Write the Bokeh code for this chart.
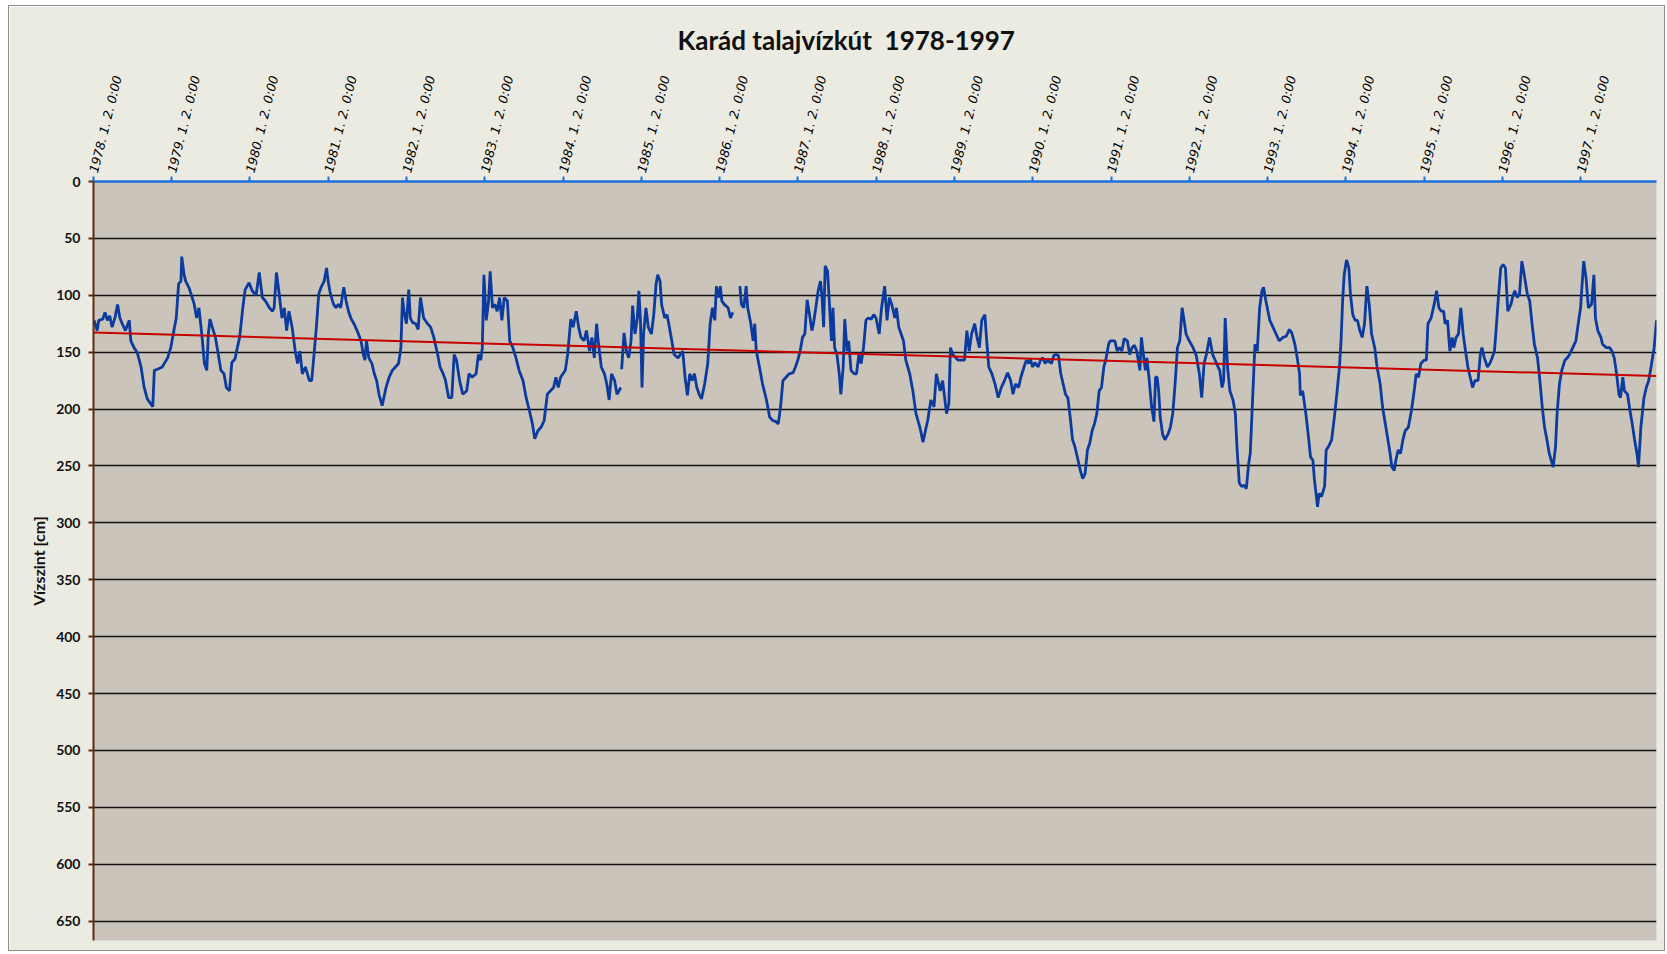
import numpy as np
import pandas as pd
from bokeh.plotting import figure
from bokeh.models import Range1d, FixedTicker, ColumnDataSource
from bokeh.embed import file_html
from bokeh.resources import INLINE

# ---------------- data ----------------
chart_title = "Karád talajvízkút\u00a0 1978-1997"
y_axis_title = "Vízszint [cm]"
tick_years = list(range(1978, 1998))
tick_labels = [f"{y}. 1. 2. 0:00" for y in tick_years]
y_ticks = list(range(0, 651, 50))
NAN = float("nan")

# (decimal year, water level below surface in cm)
block_1978_1982 = [
    (1978.01, 122), (1978.05, 131), (1978.07, 122), (1978.12, 121), (1978.15, 115), (1978.18, 122),
    (1978.21, 118), (1978.24, 128), (1978.28, 119), (1978.31, 108), (1978.34, 120), (1978.37, 125),
    (1978.41, 131), (1978.46, 122), (1978.48, 140), (1978.52, 146), (1978.56, 150), (1978.61, 163),
    (1978.65, 181), (1978.69, 191), (1978.76, 198), (1978.78, 166), (1978.82, 165), (1978.88, 163),
    (1978.95, 155), (1978.99, 146), (1979.03, 131), (1979.06, 120), (1979.09, 90), (1979.12, 87.5),
    (1979.13, 66), (1979.16, 82), (1979.18, 87.5), (1979.22, 93), (1979.25, 99), (1979.29, 108),
    (1979.32, 120), (1979.35, 111), (1979.39, 137), (1979.42, 160), (1979.45, 166), (1979.47, 134),
    (1979.49, 121), (1979.52, 128), (1979.56, 137), (1979.59, 149), (1979.63, 166), (1979.67, 169),
    (1979.70, 181), (1979.74, 184), (1979.77, 159), (1979.81, 156), (1979.84, 146), (1979.87, 137),
    (1979.91, 111), (1979.94, 95), (1979.99, 89), (1980.03, 96), (1980.08, 100), (1980.12, 80),
    (1980.16, 102), (1980.20, 105), (1980.25, 111), (1980.29, 114), (1980.31, 111), (1980.34, 80),
    (1980.37, 96), (1980.41, 120), (1980.44, 111), (1980.47, 131), (1980.50, 114), (1980.54, 128),
    (1980.58, 149), (1980.61, 160), (1980.64, 149), (1980.67, 169), (1980.71, 163), (1980.76, 175),
    (1980.79, 175), (1980.82, 152), (1980.85, 128), (1980.88, 99), (1980.91, 93), (1980.95, 87.5),
    (1980.98, 76), (1981.00, 87.5), (1981.03, 99), (1981.07, 108), (1981.10, 111), (1981.13, 108),
    (1981.16, 111), (1981.20, 93), (1981.23, 105), (1981.26, 114), (1981.29, 120), (1981.33, 125),
    (1981.37, 131), (1981.42, 140), (1981.45, 152), (1981.47, 157), (1981.49, 140), (1981.52, 155),
    (1981.56, 160), (1981.59, 169), (1981.62, 175), (1981.65, 187), (1981.69, 197), (1981.74, 181),
    (1981.78, 172), (1981.82, 166), (1981.86, 163), (1981.90, 160), (1981.93, 146), (1981.95, 102),
    (1981.97, 114), (1982.00, 125), (1982.03, 95), (1982.05, 120), (1982.08, 124), (1982.12, 125),
    (1982.15, 130), (1982.18, 102), (1982.22, 120), (1982.27, 125), (1982.31, 128), (1982.35, 137),
    (1982.40, 152), (1982.43, 163), (1982.47, 169), (1982.50, 175), (1982.54, 190), (1982.58, 190),
    (1982.61, 152), (1982.64, 157), (1982.68, 175), (1982.72, 187), (1982.77, 184), (1982.80, 169),
    (1982.84, 172), (1982.89, 169), (1982.92, 152), (1982.95, 157), (1982.97, 146), (1982.99, 82),
]

block_1983_1987 = [
    (1983.02, 122), (1983.05, 105), (1983.07, 79), (1983.10, 111), (1983.13, 108), (1983.16, 114),
    (1983.19, 102), (1983.22, 122), (1983.25, 102), (1983.29, 105), (1983.32, 140), (1983.36, 146),
    (1983.40, 155), (1983.44, 166), (1983.49, 175), (1983.53, 190), (1983.57, 201), (1983.61, 213),
    (1983.64, 226), (1983.68, 219), (1983.72, 216), (1983.76, 210), (1983.80, 187), (1983.84, 184),
    (1983.88, 181), (1983.91, 172), (1983.94, 181), (1983.97, 172), (1984.00, 169), (1984.03, 166),
    (1984.06, 152), (1984.10, 121), (1984.13, 128), (1984.17, 114), (1984.20, 128), (1984.23, 137),
    (1984.27, 140), (1984.30, 131), (1984.34, 149), (1984.37, 137), (1984.40, 155), (1984.43, 125),
    (1984.45, 140), (1984.49, 163), (1984.53, 169), (1984.56, 178), (1984.59, 192), (1984.62, 169),
    (1984.66, 175), (1984.69, 187), (1984.74, 181), (1984.745, NAN), (1984.75, 165), (1984.78, 133),
    (1984.81, 149), (1984.84, 155), (1984.87, 140), (1984.89, 109), (1984.92, 134), (1984.95, 120),
    (1984.97, 96), (1984.99, 122), (1985.01, 181), (1985.03, 134), (1985.06, 111), (1985.09, 128),
    (1985.13, 134), (1985.16, 117), (1985.19, 90), (1985.21, 82), (1985.24, 87.5), (1985.26, 108),
    (1985.30, 120), (1985.33, 117), (1985.36, 128), (1985.39, 140), (1985.42, 152), (1985.47, 155),
    (1985.50, 152), (1985.53, 149), (1985.56, 172), (1985.59, 188), (1985.62, 169), (1985.65, 175),
    (1985.68, 169), (1985.71, 181), (1985.74, 187), (1985.77, 191), (1985.81, 178), (1985.85, 160),
    (1985.88, 125), (1985.91, 111), (1985.94, 122), (1985.96, 92), (1985.99, 102), (1986.01, 92),
    (1986.03, 105), (1986.06, 108), (1986.11, 111), (1986.14, 120), (1986.17, 115), (1986.21, NAN),
    (1986.26, 92), (1986.28, 108), (1986.31, 111), (1986.34, 92), (1986.36, 111), (1986.40, 125),
    (1986.43, 140), (1986.45, 125), (1986.47, 149), (1986.51, 163), (1986.55, 178), (1986.60, 192),
    (1986.64, 207), (1986.68, 210), (1986.72, 211), (1986.75, 213), (1986.78, 198), (1986.81, 175),
    (1986.85, 172), (1986.89, 169), (1986.94, 168), (1986.97, 163), (1987.00, 157), (1987.03, 149),
    (1987.06, 137), (1987.09, 134), (1987.12, 104), (1987.15, 117), (1987.18, 131), (1987.20, 125),
    (1987.23, 111), (1987.26, 96), (1987.29, 87.5), (1987.31, 102), (1987.33, 128), (1987.35, 74),
    (1987.38, 79), (1987.40, 102), (1987.43, 140), (1987.45, 111), (1987.47, 146), (1987.50, 152),
    (1987.53, 169), (1987.55, 187), (1987.58, 163), (1987.60, 121), (1987.63, 149), (1987.65, 140),
    (1987.68, 166), (1987.72, 169), (1987.75, 169), (1987.78, 152), (1987.81, 160), (1987.84, 146),
    (1987.87, 122), (1987.90, 120), (1987.94, 121), (1987.97, 117),
]

block_1988_1992 = [
    (1988.00, 120), (1988.04, 134), (1988.07, 111), (1988.11, 92), (1988.14, 122), (1988.17, 102),
    (1988.20, 108), (1988.24, 120), (1988.26, 111), (1988.29, 128), (1988.32, 134), (1988.35, 140),
    (1988.38, 157), (1988.43, 169), (1988.47, 184), (1988.51, 204), (1988.56, 216), (1988.60, 229),
    (1988.63, 219), (1988.66, 210), (1988.70, 192), (1988.74, 198), (1988.77, 169), (1988.79, 175),
    (1988.82, 184), (1988.85, 175), (1988.90, 204), (1988.93, 195), (1988.95, 146), (1988.98, 152),
    (1989.02, 155), (1989.05, 157), (1989.09, 157), (1989.13, 157), (1989.16, 131), (1989.19, 149),
    (1989.22, 134), (1989.26, 125), (1989.29, 137), (1989.32, 146), (1989.35, 122), (1989.39, 117),
    (1989.41, 137), (1989.44, 163), (1989.48, 169), (1989.52, 178), (1989.56, 190), (1989.60, 181),
    (1989.64, 175), (1989.68, 168), (1989.72, 175), (1989.75, 187), (1989.78, 178), (1989.82, 181),
    (1989.85, 172), (1989.89, 163), (1989.92, 157), (1989.95, 160), (1989.97, 156), (1990.00, 163),
    (1990.03, 159), (1990.07, 163), (1990.10, 157), (1990.13, 155), (1990.16, 160), (1990.19, 157),
    (1990.24, 160), (1990.27, 153), (1990.30, 152), (1990.33, 153), (1990.36, 169), (1990.39, 178),
    (1990.42, 187), (1990.45, 190), (1990.48, 207), (1990.51, 227), (1990.54, 233), (1990.58, 245),
    (1990.61, 254), (1990.64, 261), (1990.67, 257), (1990.70, 236), (1990.73, 230), (1990.76, 219),
    (1990.79, 213), (1990.82, 204), (1990.85, 184), (1990.88, 181), (1990.91, 163), (1990.94, 155),
    (1990.97, 143), (1990.99, 140), (1991.05, 140), (1991.08, 149), (1991.11, 146), (1991.14, 149),
    (1991.17, 138), (1991.21, 140), (1991.24, 152), (1991.27, 146), (1991.30, 144), (1991.33, 149),
    (1991.37, 166), (1991.39, 137), (1991.41, 149), (1991.44, 166), (1991.46, 155), (1991.49, 175),
    (1991.52, 198), (1991.55, 211), (1991.57, 172), (1991.59, 172), (1991.61, 184), (1991.63, 207),
    (1991.66, 222), (1991.69, 227), (1991.73, 222), (1991.76, 216), (1991.79, 204), (1991.82, 178),
    (1991.85, 146), (1991.88, 140), (1991.91, 111), (1991.93, 120), (1991.96, 134), (1992.00, 140),
    (1992.05, 146), (1992.09, 153), (1992.13, 169), (1992.16, 190), (1992.19, 160), (1992.22, 152),
    (1992.26, 137), (1992.30, 152), (1992.35, 160), (1992.39, 166), (1992.42, 181), (1992.44, 175),
    (1992.46, 120), (1992.49, 163), (1992.52, 184), (1992.56, 192), (1992.59, 204), (1992.61, 233),
    (1992.64, 265), (1992.67, 268), (1992.70, 267), (1992.73, 270), (1992.76, 248), (1992.78, 239),
    (1992.81, 192), (1992.84, 143), (1992.87, 149), (1992.90, 111), (1992.93, 96), (1992.95, 93),
    (1992.98, 105),
]

block_1993_1997 = [
    (1993.03, 122), (1993.07, 128), (1993.11, 134), (1993.15, 140), (1993.20, 137), (1993.24, 136),
    (1993.28, 130), (1993.31, 133), (1993.35, 143), (1993.38, 155), (1993.41, 169), (1993.42, 188),
    (1993.45, 184), (1993.49, 204), (1993.52, 222), (1993.55, 242), (1993.58, 245), (1993.60, 262),
    (1993.62, 274), (1993.64, 286), (1993.66, 274), (1993.69, 277), (1993.73, 268), (1993.75, 236),
    (1993.78, 233), (1993.82, 227), (1993.86, 204), (1993.89, 184), (1993.92, 163), (1993.94, 140),
    (1993.96, 105), (1993.98, 82), (1994.01, 69), (1994.04, 76), (1994.06, 99), (1994.09, 117),
    (1994.12, 122), (1994.15, 122), (1994.18, 131), (1994.21, 137), (1994.24, 125), (1994.27, 92),
    (1994.30, 108), (1994.33, 134), (1994.37, 146), (1994.40, 163), (1994.44, 178), (1994.47, 198),
    (1994.52, 219), (1994.56, 236), (1994.59, 251), (1994.62, 254), (1994.64, 245), (1994.67, 236),
    (1994.70, 239), (1994.73, 227), (1994.76, 219), (1994.80, 216), (1994.84, 201), (1994.88, 181),
    (1994.90, 169), (1994.93, 172), (1994.96, 160), (1995.00, 157), (1995.03, 157), (1995.05, 125),
    (1995.09, 120), (1995.13, 108), (1995.16, 96), (1995.19, 111), (1995.22, 114), (1995.25, 114),
    (1995.27, 125), (1995.30, 122), (1995.33, 149), (1995.36, 137), (1995.38, 146), (1995.41, 137),
    (1995.44, 134), (1995.47, 111), (1995.50, 134), (1995.53, 149), (1995.56, 163), (1995.59, 172),
    (1995.62, 181), (1995.65, 175), (1995.69, 175), (1995.72, 152), (1995.74, 146), (1995.77, 155),
    (1995.81, 163), (1995.84, 160), (1995.87, 155), (1995.90, 149), (1995.92, 131), (1995.95, 102),
    (1995.98, 76), (1996.01, 73), (1996.04, 76), (1996.07, 114), (1996.11, 108), (1996.13, 102),
    (1996.16, 96), (1996.19, 102), (1996.22, 99), (1996.25, 70), (1996.28, 82), (1996.32, 99),
    (1996.35, 105), (1996.38, 125), (1996.41, 143), (1996.45, 155), (1996.48, 175), (1996.51, 198),
    (1996.54, 216), (1996.57, 227), (1996.60, 239), (1996.65, 251), (1996.68, 233), (1996.70, 204),
    (1996.73, 178), (1996.76, 166), (1996.80, 157), (1996.83, 155), (1996.86, 152), (1996.90, 146),
    (1996.94, 140), (1996.97, 125), (1997.00, 111), (1997.02, 90), (1997.04, 70), (1997.07, 85),
    (1997.10, 111), (1997.14, 108), (1997.17, 82), (1997.19, 120), (1997.22, 131), (1997.26, 137),
    (1997.28, 143), (1997.33, 146), (1997.37, 146), (1997.40, 149), (1997.43, 155), (1997.46, 169),
    (1997.49, 187), (1997.51, 190), (1997.54, 172), (1997.56, 184), (1997.60, 187), (1997.63, 201),
    (1997.66, 213), (1997.69, 227), (1997.72, 239), (1997.74, 251), (1997.77, 216), (1997.81, 190),
    (1997.84, 181), (1997.87, 175), (1997.90, 163), (1997.94, 146), (1997.97, 122),
]

# ---------------- build ----------------
records = block_1978_1982 + block_1983_1987 + block_1988_1992 + block_1993_1997
dec_year = np.array([r[0] for r in records], dtype=float)
level = np.array([r[1] for r in records], dtype=float)

origin = pd.Timestamp("1978-01-02")
start_dec = 1978 + 1 / 365.25
days = (dec_year - start_dec) * 365.25

tick_days = [int((pd.Timestamp(f"{y}-01-02") - origin).days) for y in tick_years]
x_end = float((pd.Timestamp("1997-12-31") - origin).days) - 10

ok = ~np.isnan(level)
slope, intercept = np.polyfit(days[ok], level[ok], 1)
trend_x = np.array([0.0, x_end])
trend_y = intercept + slope * trend_x

src = ColumnDataSource(dict(x=days, y=level))

p = figure(
    width=1657, height=946,
    x_range=Range1d(0, x_end), y_range=Range1d(667, 0),
    x_axis_location="above",
    output_backend="svg", toolbar_location=None,
    min_border_left=84, min_border_right=10, min_border_top=175, min_border_bottom=12,
    background_fill_color="#cac4ba", border_fill_color="#ecebe2",
    outline_line_color=None,
    styles={"border": "1px solid #8e8e8e", "margin-left": "8px", "margin-top": "5px"},
)

# title
p.title.text = chart_title
p.title.text_font = "Lato"
p.title.text_font_size = "26px"
p.title.text_font_style = "bold"
p.title.text_color = "#111111"
p.title.align = "left"
p.title.offset = 584
p.title.standoff = 27

# x axis (top)
xa = p.xaxis[0]
xa.ticker = FixedTicker(ticks=tick_days)
xa.major_label_overrides = {d: lab for d, lab in zip(tick_days, tick_labels)}
xa.major_label_orientation = np.radians(76)
xa.major_label_text_font = "DejaVu Sans"
xa.major_label_text_font_size = "12.5px"
xa.major_label_text_font_style = "italic"
xa.major_label_text_color = "#000000"
xa.major_label_standoff = 4
xa.axis_line_color = "#1f6fe0"
xa.axis_line_width = 2.5
xa.major_tick_line_color = "#1f6fe0"
xa.major_tick_line_width = 2
xa.major_tick_out = 5
xa.major_tick_in = 0
xa.minor_tick_line_color = None

# y axis (left)
ya = p.yaxis[0]
ya.ticker = FixedTicker(ticks=y_ticks)
ya.axis_label = y_axis_title
ya.axis_label_text_font = "Lato"
ya.axis_label_text_font_size = "16px"
ya.axis_label_text_font_style = "bold"
ya.axis_label_text_color = "#111111"
ya.axis_label_standoff = 5
ya.major_label_text_font = "Lato"
ya.major_label_text_font_size = "14px"
ya.major_label_text_font_style = "bold"
ya.major_label_text_color = "#111111"
ya.major_label_standoff = 8
ya.axis_line_color = "#5a2e0e"
ya.axis_line_width = 2
ya.major_tick_line_color = "#5a2e0e"
ya.major_tick_line_width = 2
ya.major_tick_out = 5
ya.major_tick_in = 0
ya.minor_tick_line_color = None

p.xgrid.visible = False
p.ygrid.ticker = FixedTicker(ticks=y_ticks)
p.ygrid.grid_line_color = "#111111"
p.ygrid.grid_line_width = 1.3

p.line("x", "y", source=src, line_color="#0b3b9e", line_width=2.8)
p.line(trend_x, trend_y, line_color="#c80000", line_width=2)

with open("out.html", "w", encoding="utf-8") as f:
    f.write(file_html(p, INLINE, title="Karád talajvízkút"))
